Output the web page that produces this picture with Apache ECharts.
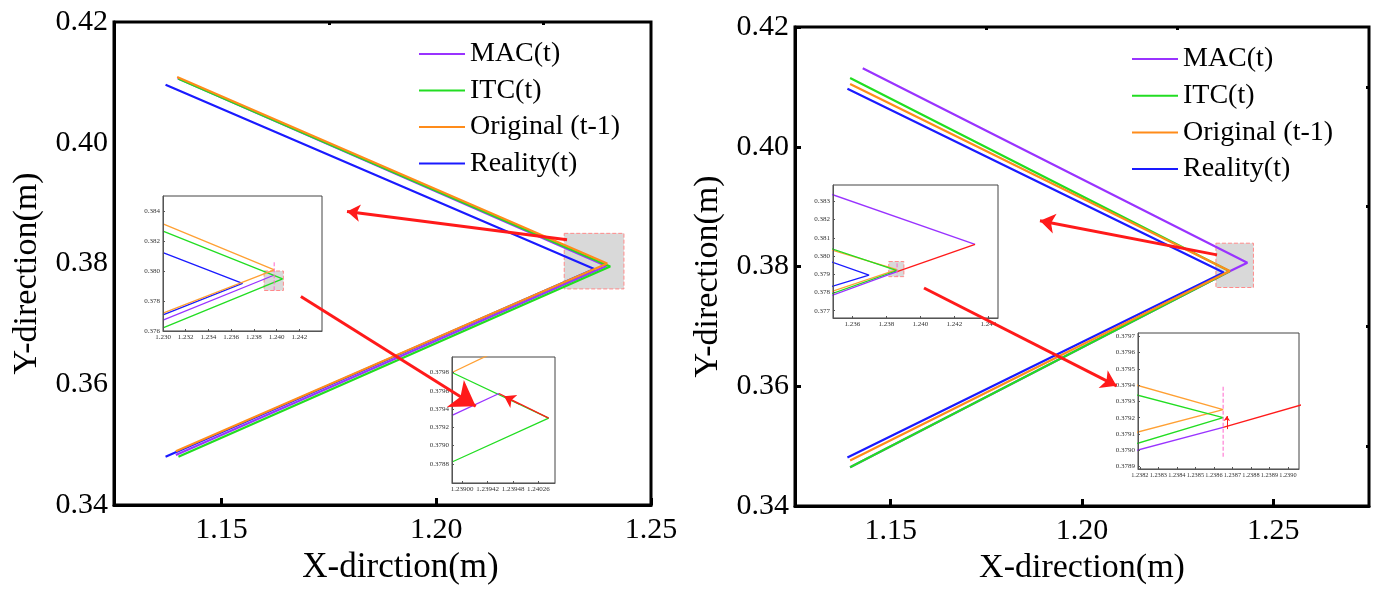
<!DOCTYPE html>
<html>
<head>
<meta charset="utf-8">
<title>Trajectory comparison</title>
<script src="https://cdn.jsdelivr.net/npm/echarts@6.0.0/dist/echarts.min.js"></script>
<style>
  html, body { margin: 0; padding: 0; background: #fff; }
  #main { width: 1374px; height: 590px; }
</style>
</head>
<body>
<div id="main"></div>
<script>
// ---- data (x, y in metres) ----
const names = ['MAC(t)', 'ITC(t)', 'Original (t-1)', 'Reality(t)'];

// left panel, main view
const leftMAC = [[1.1398, 0.4107], [1.2396, 0.3796], [1.1394, 0.3483]];
const leftITC = [[1.1400, 0.4106], [1.2405, 0.3795], [1.1400, 0.3480]];
const leftOri = [[1.1397, 0.4109], [1.2398, 0.3800], [1.1394, 0.3489]];
const leftRea = [[1.1370, 0.4096], [1.2368, 0.3791], [1.1370, 0.3480]];

// left panel, first zoom (x 1.230-1.244)
const l1MAC = [[1.2300, 0.37673], [1.2397, 0.37970]];
const l1ITC = [[1.2300, 0.38266], [1.24053, 0.37947], [1.2300, 0.37621]];
const l1Ori = [[1.2300, 0.38314], [1.2398, 0.38008], [1.2300, 0.37719]];
const l1Rea = [[1.2300, 0.38122], [1.2370, 0.37917], [1.2300, 0.37707]];
const l1Cursor = [[1.23979, 0.38058], [1.23979, 0.37871]];

// left panel, second zoom
const l2MAC = [[1.23884, 0.37933], [1.23958, 0.37957]];
const l2Red = [[1.23958, 0.37957], [1.24036, 0.37930]];
const l2ITC = [[1.23884, 0.37980], [1.24036, 0.37930], [1.23884, 0.37882]];
const l2Ori = [[1.23884, 0.37980], [1.23950, 0.38002]];
const l2Mark = [[1.23990, 0.37945], [1.23966, 0.37954]];
const l2XTicks = [1.2390, 1.2394, 1.2398, 1.2402];
const l2XLabels = ['1.23900', '1.23942', '1.23948', '1.24026'];
const l2YTicks = [0.3788, 0.3790, 0.3792, 0.3794, 0.3796, 0.3798];

// right panel, main view
const rightMAC = [[1.1427, 0.4131], [1.2432, 0.38065], [1.2386, 0.3792], [1.1394, 0.3465]];
const rightITC = [[1.1394, 0.4115], [1.2386, 0.3792], [1.1394, 0.3465]];
const rightOri = [[1.1394, 0.4105], [1.2386, 0.37925], [1.1394, 0.3476]];
const rightRea = [[1.1387, 0.4097], [1.2370, 0.3790], [1.1387, 0.3481]];

// right panel, first zoom
const r1MAC = [[1.2348, 0.38338], [1.24322, 0.38064]];
const r1MACback = [[1.2348, 0.37784], [1.23863, 0.37914]];
const r1Red = [[1.24322, 0.38064], [1.23863, 0.37914]];
const r1ITC = [[1.2348, 0.38040], [1.23863, 0.37920], [1.2348, 0.37794]];
const r1Ori = [[1.2348, 0.38033], [1.23863, 0.37925], [1.2348, 0.37806]];
const r1Rea = [[1.2348, 0.37967], [1.23698, 0.37895], [1.2348, 0.37833]];
const r1Cursor = [[1.23863, 0.37960], [1.23863, 0.37888]];
const r1XTicks = [1.236, 1.238, 1.240, 1.242, 1.244];
const r1YTicks = [0.377, 0.378, 0.379, 0.380, 0.381, 0.382, 0.383];

// right panel, second zoom
const r2MAC = [[1.23815, 0.37899], [1.23865, 0.37914]];
const r2Red = [[1.23865, 0.37914], [1.23920, 0.37932]];
const r2ITC = [[1.23815, 0.37935], [1.23865, 0.37920], [1.23815, 0.37903]];
const r2Ori = [[1.23815, 0.37941], [1.23865, 0.37925], [1.23815, 0.37910]];
const r2Cursor = [[1.23865, 0.37939], [1.23865, 0.37895]];
const r2Mark = [[1.23867, 0.37913], [1.23867, 0.37921]];
const r2XTicks = [1.2382, 1.2383, 1.2384, 1.2385, 1.2386, 1.2387, 1.2388, 1.2389, 1.2390];
const r2YTicks = [0.3789, 0.3790, 0.3791, 0.3792, 0.3793, 0.3794, 0.3795, 0.3796, 0.3797];

// zoom boxes and arrows (data units of the main panels)
const leftBox = [[1.2298, 0.3850], [1.2437, 0.3758]];
const leftSmallBox = [[1.2389, 0.3800], [1.2406, 0.3787]];
const rightBox = [[1.2350, 0.3839], [1.2448, 0.3765]];
const rightSmallBox = [[1.23814, 0.37970], [1.23903, 0.37887]];
const leftArrowUp = [[1.23045, 0.38394], [1.17924, 0.38861]];
const leftArrowDown = [[1.16850, 0.37453], [1.20920, 0.35637]];
const rightArrowUp = [[1.23528, 0.38195], [1.18902, 0.38764]];
const rightArrowDown = [[1.15871, 0.37642], [1.20902, 0.36008]];

const mainXTicks = [1.15, 1.20, 1.25];
const mainXMinor = [1.175, 1.225];
const rightYMinor = [0.35, 0.37, 0.39, 0.41];

const colors = { MAC: '#9933ff', ITC: '#22dd22', Ori: '#ff8c1a', Rea: '#1a1aff' };
const RED = '#ff1a1a';
const serif = "'Liberation Serif', 'Times New Roman', serif";

var chart = echarts.init(document.getElementById('main'));

function mainX(grid, max) {
  return {
    gridIndex: grid, type: 'value', min: 1.125, max: max,
    name: grid === 0 ? 'X-dirction(m)' : 'X-direction(m)',
    nameLocation: 'middle', nameGap: 39,
    nameTextStyle: { fontFamily: serif, fontSize: grid === 0 ? 35 : 34, color: '#000', padding: grid === 0 ? [0, 0, 0, 36] : 0 },
    axisLine: { lineStyle: { color: '#000', width: 3 } },
    axisTick: { inside: true, length: 7, lineStyle: { width: 3, color: '#000' }, customValues: mainXTicks },
    axisLabel: { customValues: mainXTicks, formatter: v => v.toFixed(2), fontFamily: serif, fontSize: 30, color: '#000', margin: 10 },
    splitLine: { show: false }
  };
}
function minorX(grid, max, vals) {
  return {
    gridIndex: grid, type: 'value', min: 1.125, max: max,
    axisLine: { show: false },
    axisTick: { inside: true, length: 3, lineStyle: { width: 3, color: '#000' }, customValues: vals },
    axisLabel: { show: false }, splitLine: { show: false }
  };
}
function mainY(grid, ticks) {
  return {
    gridIndex: grid, type: 'value', min: 0.34, max: 0.42, interval: 0.02,
    name: 'Y-direction(m)', nameLocation: 'middle', nameGap: 70, nameRotate: 90,
    nameTextStyle: { fontFamily: serif, fontSize: 34, color: '#000', padding: [0, 20, 0, 0] },
    axisLine: { lineStyle: { color: '#000', width: 3 } },
    axisTick: { show: ticks, inside: true, length: 6, lineStyle: { width: 3, color: '#000' } },
    axisLabel: { formatter: v => v.toFixed(2), fontFamily: serif, fontSize: 30, color: '#000', margin: 6 },
    splitLine: { show: false }
  };
}
function insetAxis(grid, min, max, ticks, fmt, size) {
  return {
    gridIndex: grid, type: 'value', min: min, max: max, z: 6,
    axisLine: { lineStyle: { color: '#555', width: 1 } },
    axisTick: { inside: true, length: 2, interval: 0, lineStyle: { color: '#555' }, customValues: ticks },
    axisLabel: { customValues: ticks, interval: 0, formatter: fmt, fontFamily: serif, fontSize: size || 7, color: '#333', margin: 3, hideOverlap: false, showMinLabel: true, showMaxLabel: true },
    splitLine: { show: false }
  };
}
const range = (a, b, s) => { const out = []; for (let i = 0; a + i * s <= b + s / 100; i++) out.push(+(a + i * s).toFixed(6)); return out; };

function line(name, data, color, xi, yi, z, width, extra) {
  return Object.assign({
    name: name, type: 'line', data: data, xAxisIndex: xi, yAxisIndex: yi,
    showSymbol: false, symbol: 'none', z: z, clip: true,
    lineStyle: { color: color, width: width }, itemStyle: { color: color }
  }, extra || {});
}
function box(area, z) {
  return {
    z: z, silent: true,
    itemStyle: { color: '#d9d9d9', borderColor: '#ff8a8a', borderType: 'dashed', borderWidth: 1 },
    data: [[{ coord: area[0] }, { coord: area[1] }]]
  };
}
function arrow(coords, xi, yi, size, width, z) {
  return {
    type: 'lines', coordinateSystem: 'cartesian2d', xAxisIndex: xi, yAxisIndex: yi, z: z || 20,
    symbol: ['none', 'arrow'], symbolSize: size, silent: true,
    itemStyle: { color: RED },
    lineStyle: { color: RED, width: width, opacity: 1, curveness: 0 },
    data: [{ coords: coords }]
  };
}
const dashed = { lineStyle: { color: '#ff66cc', width: 1, type: 'dashed' } };

var option = {
  animation: false,
  backgroundColor: '#fff',
  grid: [
    { left: 114, top: 22, width: 537, height: 497, show: true, borderColor: '#000', borderWidth: 3, backgroundColor: 'transparent' },
    { left: 795, top: 27, width: 574, height: 492, show: true, borderColor: '#000', borderWidth: 3, backgroundColor: 'transparent' },
    { left: 163, top: 196, width: 159, height: 135, show: true, z: 3, borderColor: '#444', borderWidth: 1, backgroundColor: '#fff' },
    { left: 452, top: 357, width: 103, height: 126, show: true, z: 3, borderColor: '#444', borderWidth: 1, backgroundColor: '#fff' },
    { left: 833, top: 185, width: 165, height: 133, show: true, z: 3, borderColor: '#444', borderWidth: 1, backgroundColor: '#fff' },
    { left: 1138, top: 333, width: 161, height: 136, show: true, z: 3, borderColor: '#444', borderWidth: 1, backgroundColor: '#fff' }
  ],
  legend: [
    { left: 414, top: 34, orient: 'vertical', icon: 'rect', itemWidth: 46, itemHeight: 2, itemGap: 6.5,
      data: names, textStyle: { fontFamily: serif, fontSize: 28, color: '#000', lineHeight: 30 } },
    { left: 1127, top: 39, orient: 'vertical', icon: 'rect', itemWidth: 46, itemHeight: 2, itemGap: 6.7,
      data: names, textStyle: { fontFamily: serif, fontSize: 28, color: '#000', lineHeight: 30 } }
  ],
  xAxis: [
    mainX(0, 1.25),
    minorX(0, 1.25, mainXMinor),
    mainX(1, 1.275),
    minorX(1, 1.275, mainXMinor),
    insetAxis(2, 1.230, 1.244, range(1.230, 1.242, 0.002), v => v.toFixed(3)),
    insetAxis(3, 1.23884, 1.24046, l2XTicks, v => l2XLabels[l2XTicks.findIndex(t => Math.abs(t - v) < 1e-7)]),
    insetAxis(4, 1.23486, 1.24457, r1XTicks, v => v.toFixed(3)),
    insetAxis(5, 1.23819, 1.23906, r2XTicks, v => v.toFixed(4), 6.3)
  ],
  yAxis: [
    mainY(0, false),
    mainY(1, true),
    { gridIndex: 1, type: 'value', min: 0.34, max: 0.42, axisLine: { show: false }, axisLabel: { show: false }, splitLine: { show: false },
      axisTick: { inside: true, length: 3, lineStyle: { width: 3, color: '#000' }, customValues: rightYMinor } },
    insetAxis(2, 0.376, 0.385, range(0.376, 0.384, 0.002), v => v.toFixed(3)),
    insetAxis(3, 0.37859, 0.37997, l2YTicks, v => v.toFixed(4)),
    insetAxis(4, 0.3766, 0.3839, r1YTicks, v => v.toFixed(3)),
    insetAxis(5, 0.378885, 0.37972, r2YTicks, v => v.toFixed(4))
  ],
  series: [
    // left main
    line(names[0], leftMAC, colors.MAC, 0, 0, 2, 2.2, { markArea: box(leftBox, 1) }),
    line(names[3], leftRea, colors.Rea, 0, 0, 2, 2.2),
    line(names[1], leftITC, colors.ITC, 0, 0, 2, 2.2),
    line(names[2], leftOri, colors.Ori, 0, 0, 2, 2.2),
    // right main
    line(names[0], rightMAC, colors.MAC, 2, 1, 2, 2.2, { markArea: box(rightBox, 1) }),
    line(names[3], rightRea, colors.Rea, 2, 1, 2, 2.2),
    line(names[1], rightITC, colors.ITC, 2, 1, 2, 2.2),
    line(names[2], rightOri, colors.Ori, 2, 1, 2, 2.2),
    // left zoom 1
    line('', l1MAC, colors.MAC, 4, 3, 5, 1.3, { markArea: box(leftSmallBox, 4) }),
    line('', l1Rea, colors.Rea, 4, 3, 5, 1.3),
    line('', l1ITC, colors.ITC, 4, 3, 5, 1.3),
    line('', l1Ori, '#ffa033', 4, 3, 5, 1.3),
    line('', l1Cursor, '#ff66cc', 4, 3, 5, 1, dashed),
    // left zoom 2
    line('', l2Ori, '#ffa033', 5, 4, 5, 1.3),
    line('', l2ITC, colors.ITC, 5, 4, 5, 1.3),
    line('', l2MAC, colors.MAC, 5, 4, 5, 1.3),
    line('', l2Red, RED, 5, 4, 5, 1.3),
    arrow(l2Mark, 5, 4, 11, 1, 6),
    // right zoom 1
    line('', r1Rea, colors.Rea, 6, 5, 5, 1.3, { markArea: box(rightSmallBox, 4) }),
    line('', r1Ori, '#ffa033', 6, 5, 5, 1.3),
    line('', r1ITC, colors.ITC, 6, 5, 5, 1.3),
    line('', r1MACback, colors.MAC, 6, 5, 5, 1.3),
    line('', r1MAC, colors.MAC, 6, 5, 5, 1.3),
    line('', r1Red, RED, 6, 5, 5, 1.3),
    line('', r1Cursor, '#ff66cc', 6, 5, 5, 1, dashed),
    // right zoom 2
    line('', r2Ori, '#ffa033', 7, 6, 5, 1.3),
    line('', r2ITC, colors.ITC, 7, 6, 5, 1.3),
    line('', r2MAC, colors.MAC, 7, 6, 5, 1.3),
    line('', r2Red, RED, 7, 6, 5, 1.3),
    line('', r2Cursor, '#ff66cc', 7, 6, 5, 1, dashed),
    arrow(r2Mark, 7, 6, 5, 1, 6),
    // arrows from boxes to zooms
    arrow(leftArrowUp, 0, 0, 13, 3),
    arrow(leftArrowDown, 0, 0, 24, 3),
    arrow(rightArrowUp, 2, 1, 15, 3),
    arrow(rightArrowDown, 2, 1, 15, 3)
  ]
};

chart.setOption(option);
</script>
</body>
</html>
